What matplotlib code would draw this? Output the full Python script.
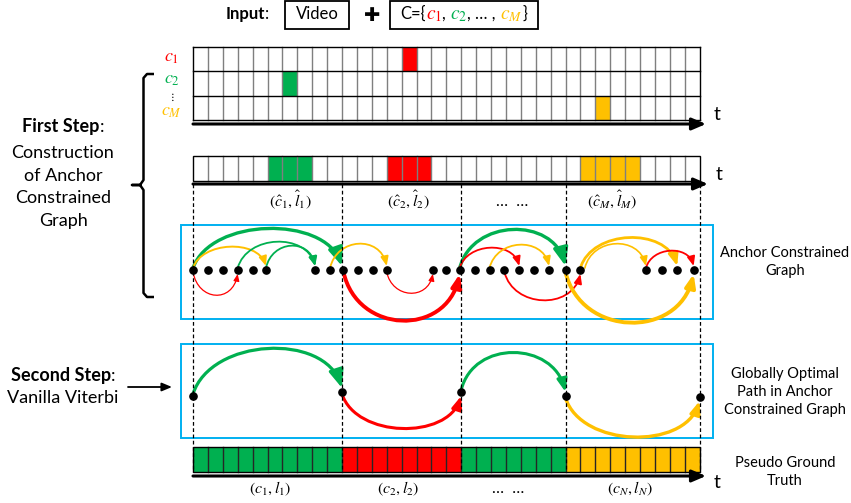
import matplotlib.pyplot as plt
from matplotlib.patches import Rectangle, FancyArrowPatch
from matplotlib.path import Path

plt.rcParams['font.family'] = ['Lato', 'DejaVu Sans']
plt.rcParams['mathtext.fontset'] = 'stix'

GREEN = '#00B050'
RED = '#FF0000'
YELLOW = '#FFC000'
BLUE = '#00B0F0'
col = {'g': GREEN, 'r': RED, 'y': YELLOW}

# ---- data ----
n_cells = 34
# anchor frames in the input grid: (row, frame, colour)
anchor_cells = [(0, 14, 'r'), (1, 6, 'g'), (2, 27, 'y')]
class_labels = [r'$c_1$', r'$c_2$', r'$c_M$']
class_colors = ['r', 'g', 'y']
# expanded anchors in the second bar: (first frame, n frames, colour)
anchor_segments = [(5, 3, 'g'), (13, 3, 'r'), (26, 4, 'y')]
anchor_labels = [r'$(\hat{c}_1,\hat{l}_1)$', r'$(\hat{c}_2,\hat{l}_2)$', '…  …', r'$(\hat{c}_M,\hat{l}_M)$']
anchor_label_x = [290, 408, 512, 612]
boundaries = [0, 10, 18, 25, 34]
# nodes of the anchor constrained graph (frame units)
graph_nodes = [0, 1, 2, 3, 4, 4.9, 8.2, 9.2, 10.1, 11.1, 12.1, 13, 16.1, 17, 17.9,
               18.9, 19.9, 20.9, 21.9, 22.9, 23.9, 25, 26, 30.4, 31.5, 32.5, 33.6]
# edges: (from, to, bulge px (+ above / - below), colour, width, head)
graph_arcs = [
    (0, 10, 38, 'g', 2.4, 'l'),
    (0, 4.9, 20, 'y', 1.4, 's'),
    (3, 8.2, 25, 'g', 1.3, 's'),
    (4.9, 8.2, 21, 'g', 1.3, 's'),
    (9.2, 13, 23, 'y', 1.3, 's'),
    (17.9, 25, 37, 'g', 2.4, 'l'),
    (17.9, 21.9, 19, 'r', 1.3, 's'),
    (19.9, 23.9, 22, 'y', 1.3, 's'),
    (26, 32.5, 29, 'y', 2.0, 'm'),
    (26.3, 30.4, 23, 'y', 1.2, 's'),
    (30.4, 33.6, 16, 'r', 1.3, 's'),
    (0, 3, -22, 'r', 0.9, 'xs'),
    (10.1, 17.9, -47, 'r', 2.8, 'm'),
    (13, 16.1, -20, 'r', 0.9, 'xs'),
    (20.9, 26, -27, 'r', 1.3, 's'),
    (25, 33.6, -49, 'y', 2.8, 'm'),
]
# globally optimal path
path_nodes = [0, 10, 18, 25, 34]
path_node_y = [396, 392, 392, 396, 397]
path_arcs = [
    (0, 1, 42, 'g', 2.3, 'l'),
    (1, 2, -33, 'r', 2.2, 'm'),
    (2, 3, 38, 'g', 2.2, 'm'),
    (3, 4, -37, 'y', 2.4, 'm'),
]
pseudo_lengths = [10, 8, 7, 9]
pseudo_colors = ['g', 'r', 'g', 'y']
pseudo_labels = [r'$(c_1,l_1)$', r'$(c_2,l_2)$', '…  …', r'$(c_N,l_N)$']
pseudo_label_x = [270, 398, 508, 630]

# ---- layout ----
X0, CW = 193.0, 14.9
def fx(i):
    return X0 + CW * i

fig = plt.figure(figsize=(8.51, 5.03), dpi=100)
ax = fig.add_axes([0, 0, 1, 1])
ax.set_xlim(0, 851)
ax.set_ylim(503, 0)
ax.axis('off')
renderer = fig.canvas.get_renderer()

heads = {'l': (10.8, 4.4), 'm': (7.5, 3.0), 's': (5.5, 2.3), 'xs': (4.0, 1.7)}


def seq_text(pieces, x, y, ha='center'):
    # draw several differently styled pieces side by side on one baseline
    ts = [ax.text(0, y, s, va='baseline', ha='left', **kw) for s, kw in pieces]
    ws = [t.get_window_extent(renderer).width for t in ts]
    start = x - sum(ws) / 2 if ha == 'center' else x
    for t, w in zip(ts, ws):
        t.set_x(start)
        start += w


def arc(xa, ya, xb, yb, h, color, lw, head, z=4):
    sgn = 1 if h > 0 else -1
    ya -= 2 * sgn
    yb -= 4 * sgn
    peak = (ya + yb) / 2 - h
    k = ((ya + yb) / 2 - peak) / 0.75
    L = xb - xa
    verts = [(xa, ya), (xa + 0.12 * L, ya - k), (xb - 0.12 * L, yb - k), (xb, yb)]
    p = Path(verts, [Path.MOVETO, Path.CURVE4, Path.CURVE4, Path.CURVE4])
    hl, hw = heads[head]
    a = FancyArrowPatch(path=p, arrowstyle=f'-|>,head_length={hl},head_width={hw}',
                        mutation_scale=1, color=color, lw=lw, zorder=z)
    ax.add_patch(a)


# ---- header ----
seq_text([('Input', dict(fontsize=12, fontweight='bold')), (':', dict(fontsize=12))], 247, 19)
ax.add_patch(Rectangle((285, 1), 64, 28, fill=False, ec='black', lw=1.3))
ax.text(317, 19, 'Video', fontsize=12, ha='center', va='baseline')
ax.text(372, 15, '\u271a', fontsize=14, ha='center', va='center', family='DejaVu Sans')
ax.add_patch(Rectangle((390, 1), 148, 28, fill=False, ec='black', lw=1.3))
seq_text([('C={', dict(fontsize=12)),
          (r'$c_1$', dict(fontsize=14, color=RED)), (', ', dict(fontsize=12)),
          (r'$c_2$', dict(fontsize=14, color=GREEN)), (', … , ', dict(fontsize=12)),
          (r'$c_M$', dict(fontsize=14, color=YELLOW)), ('}', dict(fontsize=12))], 464, 19)

# ---- input grid ----
rows_y = [46.5, 71, 95.5, 120]
for r in range(3):
    for i in range(n_cells):
        ax.add_patch(Rectangle((fx(i), rows_y[r]), CW, rows_y[r + 1] - rows_y[r], fc='white', ec='none', zorder=1))
for r, i, c in anchor_cells:
    ax.add_patch(Rectangle((fx(i), rows_y[r]), CW, rows_y[r + 1] - rows_y[r], fc=col[c], ec='none', zorder=2))
for i in range(1, n_cells):
    ax.plot([fx(i)] * 2, [rows_y[0], rows_y[-1]], color='#7f7f7f', lw=1.0, zorder=3)
for yy in rows_y:
    ax.plot([fx(0), fx(n_cells)], [yy, yy], color='black', lw=1.0, zorder=3)
for xx in (fx(0), fx(n_cells)):
    ax.plot([xx, xx], [rows_y[0], rows_y[-1]], color='black', lw=1.0, zorder=3)
for lab, c, yy in zip(class_labels, class_colors, [62, 84, 116]):
    ax.text(172, yy, lab, color=col[c], fontsize=13, ha='center', va='baseline')
ax.text(172, 97, r'$\vdots$', fontsize=8, ha='center', va='center')


def time_axis(y, x_end, ty):
    ax.annotate('', xy=(x_end, y), xytext=(fx(0), y),
                arrowprops=dict(arrowstyle='-|>,head_length=0.7,head_width=0.3', lw=2.2,
                                color='black', mutation_scale=12, shrinkA=0, shrinkB=0))
    ax.text(x_end + 8, ty, 't', fontsize=14, ha='left', va='center')


time_axis(124, 706, 114)

# ---- anchor bar ----
b_top, b_bot = 155.5, 180.5
for i in range(n_cells):
    ax.add_patch(Rectangle((fx(i), b_top), CW, b_bot - b_top, fc='white', ec='none', zorder=1))
for s, n, c in anchor_segments:
    ax.add_patch(Rectangle((fx(s), b_top), CW * n, b_bot - b_top, fc=col[c], ec='none', zorder=2))
for i in range(1, n_cells):
    ax.plot([fx(i)] * 2, [b_top, b_bot], color='#7f7f7f', lw=1.0, zorder=3)
ax.add_patch(Rectangle((fx(0), b_top), CW * n_cells, b_bot - b_top, fill=False, ec='black', lw=1.0, zorder=3))
time_axis(184, 708, 174)
for lab, xx in zip(anchor_labels, anchor_label_x):
    ax.text(xx, 206, lab, fontsize=11.5, ha='center', va='baseline')

# dashed segment boundaries
for b in boundaries:
    ax.plot([fx(b)] * 2, [184, 472], color='black', lw=0.9, ls=(0, (3, 2)), zorder=5)

# ---- anchor constrained graph ----
ax.add_patch(Rectangle((180.5, 225), 532, 93.5, fill=False, ec=BLUE, lw=1.4, zorder=3))
gy = 270
for a, b, h, c, lw, hd in graph_arcs:
    arc(fx(a), gy, fx(b), gy, h, col[c], lw, hd)
ax.plot([fx(n) for n in graph_nodes], [gy] * len(graph_nodes), 'o', color='black', ms=5.2, zorder=6)

# ---- globally optimal path ----
ax.add_patch(Rectangle((180.5, 344), 532, 94, fill=False, ec=BLUE, lw=1.4, zorder=3))
for a, b, h, c, lw, hd in path_arcs:
    arc(fx(path_nodes[a]), path_node_y[a], fx(path_nodes[b]), path_node_y[b], h, col[c], lw, hd)
ax.plot([fx(n) for n in path_nodes], path_node_y, 'o', color='black', ms=5.2, zorder=6)

# ---- pseudo ground truth ----
p_top, p_bot = 447, 472
pos = 0
for n, c in zip(pseudo_lengths, pseudo_colors):
    ax.add_patch(Rectangle((fx(pos), p_top), CW * n, p_bot - p_top, fc=col[c], ec='none', zorder=1))
    pos += n
for i in range(1, n_cells):
    ax.plot([fx(i)] * 2, [p_top, p_bot], color='#262626', lw=1.0, zorder=3)
ax.add_patch(Rectangle((fx(0), p_top), CW * n_cells, p_bot - p_top, fill=False, ec='black', lw=1.0, zorder=3))
time_axis(476, 706, 483)
for lab, xx in zip(pseudo_labels, pseudo_label_x):
    ax.text(xx, 493, lab, fontsize=11.5, ha='center', va='baseline')

# ---- right captions ----
ax.text(785, 262, 'Anchor Constrained\nGraph', fontsize=10.5, ha='center', va='center', linespacing=1.4)
ax.text(785, 392, 'Globally Optimal\nPath in Anchor\nConstrained Graph', fontsize=10.5, ha='center',
        va='center', linespacing=1.4)
ax.text(785, 472, 'Pseudo Ground\nTruth', fontsize=10.5, ha='center', va='center', linespacing=1.4)

# ---- left captions ----
seq_text([('First Step', dict(fontsize=13, fontweight='bold')), (':', dict(fontsize=13))], 63, 132)
ax.text(63, 187, 'Construction\nof Anchor\nConstrained\nGraph', fontsize=13, ha='center',
        va='center', linespacing=1.5)
seq_text([('Second Step', dict(fontsize=13, fontweight='bold')), (':', dict(fontsize=13))], 63, 381)
ax.text(63, 403, 'Vanilla Viterbi', fontsize=13, ha='center', va='baseline')
ax.annotate('', xy=(172, 387), xytext=(128, 387),
            arrowprops=dict(arrowstyle='-|>,head_length=0.6,head_width=0.25', lw=1.3,
                            color='black', mutation_scale=10, shrinkA=0, shrinkB=0))

# curly brace
bx = 143.5
brace = [(154, 74), (147, 74), (bx, 78), (bx, 180), (140, 185), (132, 185),
         (140, 185), (bx, 190), (bx, 293), (147, 297), (154, 297)]
ax.plot([p[0] for p in brace], [p[1] for p in brace], color='black', lw=1.8,
        solid_joinstyle='round', solid_capstyle='butt')

fig.savefig('out.png', dpi=100)
